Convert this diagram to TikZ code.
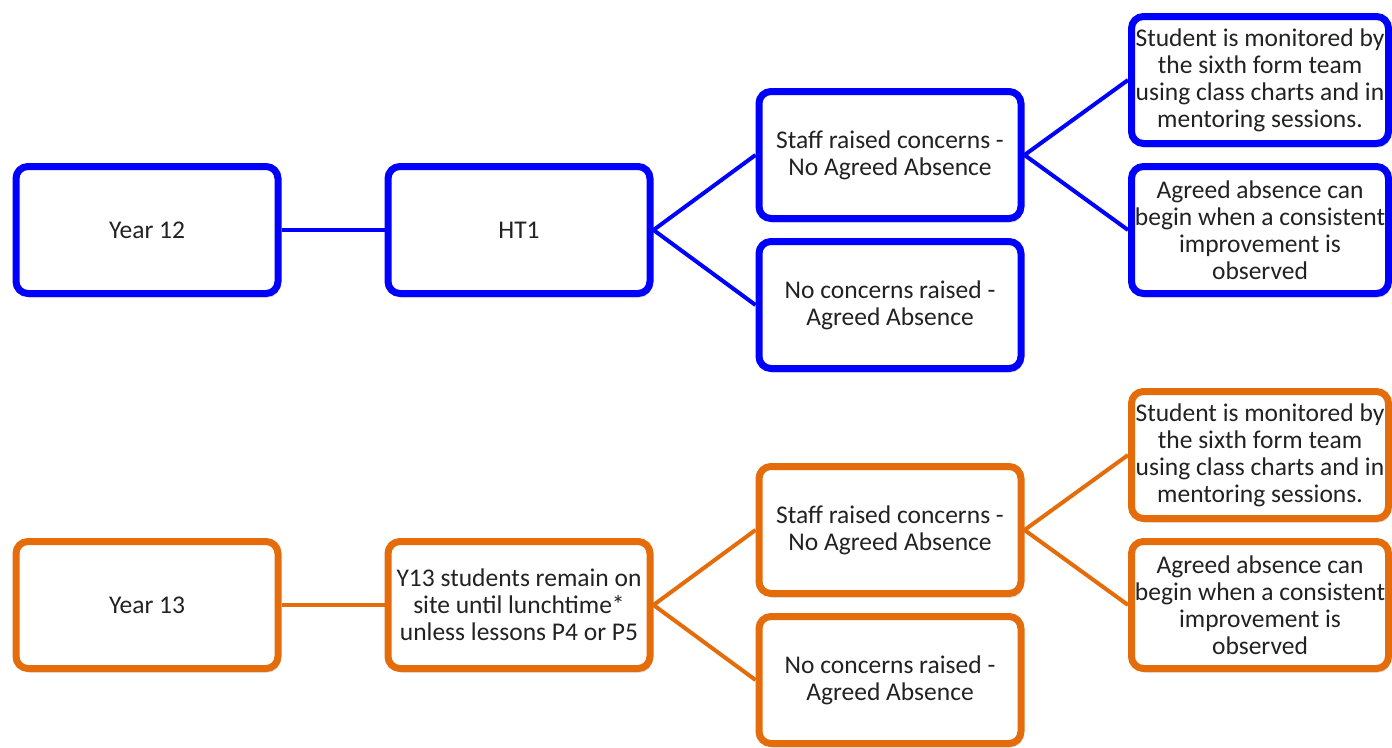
\documentclass[tikz,border=0pt]{standalone}
\usepackage{fontspec}
\setmainfont{Carlito}
\usetikzlibrary{shadows}
\definecolor{bblue}{HTML}{0000FF}
\definecolor{borange}{HTML}{E46C0A}
\definecolor{txt}{HTML}{222222}
\tikzset{
  box/.style={draw, line width=7pt, rounded corners=12pt, fill=white,
    minimum width=262pt, minimum height=127pt, align=center, inner sep=1pt,
    font=\fontsize{25.5}{27}\selectfont, text=txt,
    drop shadow={opacity=0.3, shadow xshift=2pt, shadow yshift=-4pt}},
  bluebox/.style={box, draw=bblue},
  orangebox/.style={box, draw=borange},
  sidebox/.style={minimum width=257pt},
  bline/.style={draw=bblue, line width=4pt},
  oline/.style={draw=borange, line width=4pt}
}
\begin{document}
\begin{tikzpicture}[x=1pt,y=-1pt]
\useasboundingbox (0,0) rectangle (1392,747);
% Blue group
\node[bluebox] (y12) at (147,230) {Year 12};
\node[bluebox] (ht1) at (519,230) {HT1};
\node[bluebox] (s12) at (890,155) {Staff raised concerns -\\No Agreed Absence};
\node[bluebox] (n12) at (890,305) {No concerns raised -\\Agreed Absence};
\node[bluebox, sidebox] (m12) at (1260,80) {Student is monitored by\\the sixth form team\\using class charts and in\\mentoring sessions.};
\node[bluebox, sidebox] (a12) at (1260,230) {Agreed absence can\\begin when a consistent\\improvement is\\observed};
% Orange group
\node[orangebox] (y13) at (147,605) {Year 13};
\node[orangebox] (r13) at (519,605) {Y13 students remain on\\site until lunchtime*\\unless lessons P4 or P5};
\node[orangebox] (s13) at (890,530) {Staff raised concerns -\\No Agreed Absence};
\node[orangebox] (n13) at (890,680) {No concerns raised -\\Agreed Absence};
\node[orangebox, sidebox] (m13) at (1260,455) {Student is monitored by\\the sixth form team\\using class charts and in\\mentoring sessions.};
\node[orangebox, sidebox] (a13) at (1260,605) {Agreed absence can\\begin when a consistent\\improvement is\\observed};
% Blue connectors
\draw[bline] (y12.east) -- (ht1.west);
\draw[bline] (ht1.east) -- (s12.west);
\draw[bline] (ht1.east) -- (n12.west);
\draw[bline] (s12.east) -- (m12.west);
\draw[bline] (s12.east) -- (a12.west);
% Orange connectors
\draw[oline] (y13.east) -- (r13.west);
\draw[oline] (r13.east) -- (s13.west);
\draw[oline] (r13.east) -- (n13.west);
\draw[oline] (s13.east) -- (m13.west);
\draw[oline] (s13.east) -- (a13.west);
\end{tikzpicture}
\end{document}
